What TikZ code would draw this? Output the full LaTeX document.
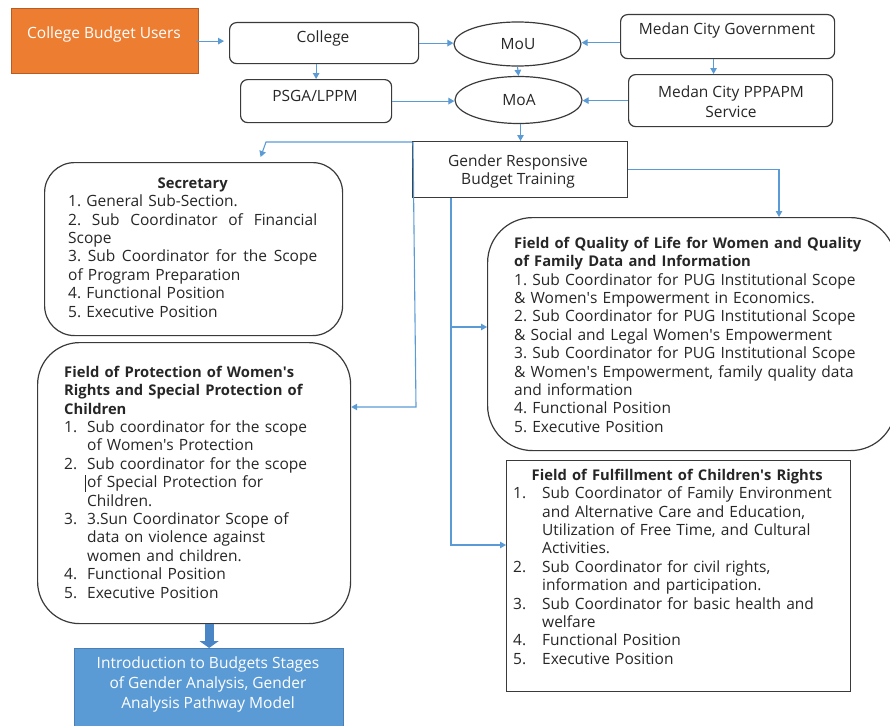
\documentclass[tikz,border=0pt]{standalone}
\usepackage{fontspec}
\setmainfont{Open Sans}
\usetikzlibrary{arrows.meta,shapes.geometric,calc}
\definecolor{arrowblue}{HTML}{5B9BD5}
\definecolor{thickblue}{HTML}{4A86C5}
\definecolor{boxgray}{HTML}{3A3A3A}
\definecolor{txtgray}{HTML}{262626}
\definecolor{orangefill}{HTML}{ED7D31}
\definecolor{orangeedge}{HTML}{B55D22}
\definecolor{bluefill}{HTML}{5B9BD5}
\definecolor{blueedge}{HTML}{4A7EB5}
\newcommand{\fsz}{\fontsize{15.5}{18.4}\selectfont\frenchspacing}
\newcommand{\hd}[1]{{\fontsize{14.75}{18.4}\selectfont\bfseries #1}}
\newcommand{\qs}{\textquotesingle}
\newcommand{\jline}[2]{\makebox[#1][s]{\spaceskip=0pt\xspaceskip=0pt #2}}
\tikzset{
  rbox/.style={draw=boxgray, line width=1.2pt, rounded corners=#1, inner sep=0pt, anchor=north west},
  rbox/.default=7pt,
  ebox/.style={draw=boxgray, line width=1.2pt, ellipse, inner sep=0pt},
  lbl/.style={anchor=base, inner sep=0pt, text=txtgray},
  blk/.style={anchor=north west, inner sep=0pt, text width=#1, align=left, text=txtgray},
  conn/.style={draw=arrowblue, line width=1.1pt, -{Triangle[length=6pt,width=6.5pt]}},
}
\begin{document}
\begin{tikzpicture}[x=1pt,y=-1pt,font=\fsz]
\useasboundingbox (0,0) rectangle (890,725);
% ---- boxes ----
\node[rbox=0pt, fill=orangefill, draw=orangeedge, minimum width=187pt, minimum height=65pt] (users) at (11,8) {};
\node[rbox, minimum width=189pt, minimum height=41pt] (college) at (229,22) {};
\node[rbox, minimum width=151pt, minimum height=43pt] (psga) at (240,79) {};
\node[ebox, minimum width=127pt, minimum height=44pt] (mou) at (517.5,44) {};
\node[ebox, minimum width=127pt, minimum height=47pt] (moa) at (518.5,100) {};
\node[rbox, minimum width=214pt, minimum height=44pt] (gov) at (620,14) {};
\node[rbox, minimum width=204pt, minimum height=52pt] (pppapm) at (628,74) {};
\node[rbox=0pt, minimum width=215pt, minimum height=56pt] (train) at (412,141) {};
\node[rbox=30pt, minimum width=298pt, minimum height=173pt] (sec) at (44,162) {};
\node[rbox=42pt, minimum width=313pt, minimum height=281pt] (prot) at (37,342) {};
\node[rbox=45pt, minimum width=408pt, minimum height=233pt] (qual) at (487,217) {};
\node[rbox=0pt, minimum width=344pt, minimum height=231pt] (fulf) at (506,460) {};
\node[rbox=0pt, fill=bluefill, draw=blueedge, minimum width=269pt, minimum height=85pt] (intro) at (74,648) {};
% ---- texts ----
\node[lbl, text=white] (usersT) at (104,38) {College Budget Users};
\node[lbl] (collegeT) at (323,43) {College};
\node[lbl] (psgaT) at (315,101) {PSGA/LPPM};
\node[lbl] (mouT) at (518,49) {MoU};
\node[lbl] (moaT) at (519,105) {MoA};
\node[lbl] (govT) at (727,35) {Medan City Government};
\node[lbl] (pppapmT1) at (731,97) {Medan City PPPAPM};
\node[lbl] (pppapmT2) at (731,117) {Service};
\node[lbl] (trainT1) at (518,166) {Gender Responsive};
\node[lbl] (trainT2) at (518,184) {Budget Training};
\node[lbl, text=white] (introT1) at (208,668) {Introduction to Budgets Stages};
\node[lbl, text=white] (introT2) at (208,688) {of Gender Analysis, Gender};
\node[lbl, text=white] (introT3) at (208,708) {Analysis Pathway Model};
\node[blk=260pt] (secT) at (68,175.12) {\makebox[249pt][c]{\strut\hd{Secretary}}\\
1. General Sub-Section.\\
\jline{249pt}{2. Sub Coordinator of Financial}\\
Scope\\
\jline{249pt}{3. Sub Coordinator for the Scope}\\
of Program Preparation\\
4. Functional Position\\
5. Executive Position};
\node[blk=370pt] (qualT) at (514,235.12) {\strut\hd{Field of Quality of Life for Women and Quality}\\
\hd{of Family Data and Information}\\
1. Sub Coordinator for PUG Institutional Scope\\
\& Women\qs s Empowerment in Economics.\\
2. Sub Coordinator for PUG Institutional Scope\\
\& Social and Legal Women\qs s Empowerment\\
3. Sub Coordinator for PUG Institutional Scope\\
\& Women\qs s Empowerment, family quality data\\
and information\\
4. Functional Position\\
5. Executive Position};
\node[blk=285pt] (protT) at (64,364.12) {\strut\hd{Field of Protection of Women\qs s}\\
\hd{Rights and Special Protection of}\\
\hd{Children}\\
\makebox[23pt][l]{1.}Sub coordinator for the scope\\
\hspace*{23pt}of Women\qs s Protection\\
\makebox[23pt][l]{2.}Sub coordinator for the scope\\
\hspace*{23pt}\llap{\rule[-4pt]{0.8pt}{17pt}\hspace{1.5pt}}of Special Protection for\\
\hspace*{23pt}Children.\\
\makebox[23pt][l]{3.}3.Sun Coordinator Scope of\\
\hspace*{23pt}data on violence against\\
\hspace*{23pt}women and children.\\
\makebox[23pt][l]{4.}Functional Position\\
\makebox[23pt][l]{5.}Executive Position};
\node[blk=335pt] (fulfT) at (513,467.12) {\makebox[328pt][c]{\strut\hd{Field of Fulfillment of Children\qs s Rights}}\\
\makebox[29pt][l]{1.}Sub Coordinator of Family Environment\\
\hspace*{29pt}and Alternative Care and Education,\\
\hspace*{29pt}Utilization of Free Time, and Cultural\\
\hspace*{29pt}Activities.\\
\makebox[29pt][l]{2.}Sub Coordinator for civil rights,\\
\hspace*{29pt}information and participation.\\
\makebox[29pt][l]{3.}Sub Coordinator for basic health and\\
\hspace*{29pt}welfare\\
\makebox[29pt][l]{4.}Functional Position\\
\makebox[29pt][l]{5.}Executive Position};
% ---- connectors ----
\draw[conn] ([xshift=-3pt]users.east) -- ([xshift=-5pt]users.east -| college.west);
\draw[conn] (college.east) -- (college.east -| mou.west);
\draw[conn] (psga.north |- college.south) -- (psga.north);
\draw[conn] (psga.east) -- (psga.east -| moa.west);
\draw[conn] ([yshift=-6pt]gov.west) -- ([yshift=-6pt]gov.west -| mou.east);
\draw[conn] ([xshift=-14pt]gov.south) -- ([xshift=-14pt]gov.south |- pppapm.north);
\draw[conn] (mou.south) -- (moa.north);
\draw[conn] (pppapm.west) -- (pppapm.west -| moa.east);
\draw[conn] ([xshift=2pt]moa.south) -- ([xshift=2pt]moa.south |- train.north);
\coordinate (ts1) at (266,142);
\draw[conn] ([yshift=-1pt]train.north west) -- (ts1) -- ([xshift=67pt,yshift=5pt]sec.north);
\coordinate (tp1) at (413,142);
\coordinate (tp2) at (416,407);
\draw[conn] (tp1) -- (tp2) -- (tp2 -| prot.east);
\coordinate (tq) at (779,0);
\draw[conn] (train.east) -- (train.east -| tq) -- (tq |- qual.north);
\coordinate (tv) at (451,0);
\coordinate (tvq) at (451,327);
\coordinate (tvf) at (451,545);
\draw[conn] (tv |- train.south) -- (tvf) -- (tvf -| fulf.west);
\draw[conn] (tvq) -- (tvq -| qual.west);
\draw[thickblue, line width=9pt, -{Triangle[length=7pt,width=19pt]}] (intro.north |- prot.south) -- (intro.north);
\end{tikzpicture}
\end{document}
